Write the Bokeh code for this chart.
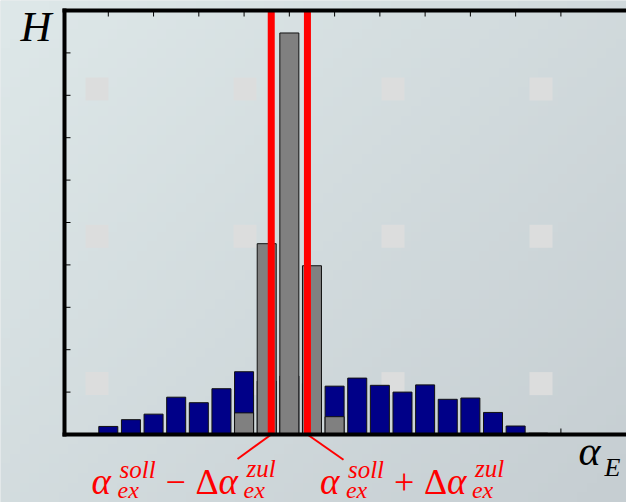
import numpy as np
from bokeh.plotting import figure
from bokeh.models import Range1d, Label
from bokeh.embed import file_html
from bokeh.resources import INLINE

# ---- data ----
bins = list(range(1, 21))
# full distribution (blue); bins 8-10 are hidden behind the grey bars
blue_h = [0.19, 0.35, 0.48, 0.88, 0.75, 1.08, 1.48, 1.26, 1.38, 1.20,
          1.14, 1.33, 1.16, 1.00, 1.17, 0.83, 0.86, 0.52, 0.20, 0.03]
grey_bins = [7, 8, 9, 10, 11]
grey_h = [0.51, 4.50, 9.47, 3.98, 0.42]
limits = [8.2, 9.8]          # alpha_soll -/+ delta alpha_zul
y_ticks = [1, 2, 3, 4, 5, 6, 7, 8, 9]
x_ticks = [1, 3, 5, 7, 9, 11, 13, 15, 17, 19, 21]

W, H = 626, 502
# plotting area in pixels (left, top, bottom); it runs off the right edge
AL, AT, AB = 64, 10, 434
BIN1_PX, PITCH = 107.8, 22.63
Y_TOP = 10
YPX = (AB - AT) / Y_TOP

def dx(px):
    return 1 + (px - BIN1_PX) / PITCH

def dy(py):
    return (AB - py) / YPX

x_start, x_end = dx(0), dx(W)
y_start, y_end = dy(H), dy(0)
x_left = dx(AL)

p = figure(width=W, height=H, output_backend="svg", toolbar_location=None,
           x_range=Range1d(x_start, x_end), y_range=Range1d(y_start, y_end),
           min_border=0, x_axis_location=None, y_axis_location=None,
           background_fill_color="#d3dbde", border_fill_color="#d3dbde",
           outline_line_color=None)
p.grid.visible = False

# soft slide background gradient
gx, gy = np.meshgrid(np.linspace(0, 1, 64), np.linspace(0, 1, 52))
t = (gx * 0.55 + (1 - gy) * 0.45)
c0 = np.array([222, 232, 233]); c1 = np.array([198, 206, 210])
img = np.empty(gx.shape, dtype=np.uint32)
view = img.view(dtype=np.uint8).reshape(gx.shape + (4,))
for k in range(3):
    view[..., k] = (c0[k] + (c1[k] - c0[k]) * t).astype(np.uint8)
view[..., 3] = 255
p.image_rgba(image=[img], x=x_start, y=y_start, dw=x_end - x_start,
             dh=y_end - y_start, level="image")

# decorative light squares of the slide background (a regular pattern)
sq_px = np.arange(96.5, W, 148.0)
sq_py = np.arange(88.5, AB, 147.3)
sx, sy = np.meshgrid(sq_px, sq_py)
p.rect(x=[dx(v) for v in sx.ravel()], y=[dy(v) for v in sy.ravel()],
       width=23, height=23, width_units="screen", height_units="screen",
       fill_color="#dcdddd", line_color=None, level="underlay")

# bottom ticks first so that the bars hide them
p.ray(x=x_ticks, y=[0] * len(x_ticks), length=6, length_units="screen",
      angle=np.pi / 2, line_color="black", line_width=1)

p.vbar(x=bins, top=blue_h, width=0.84, fill_color="#000088",
       line_color="#111111", line_width=1)
p.vbar(x=grey_bins, top=grey_h, width=0.84, fill_color="#808080",
       line_color="#111111", line_width=1)
p.segment(x0=limits, y0=[0] * 2, x1=limits, y1=[Y_TOP] * 2,
          line_color="#ff0000", line_width=7)

# connector lines to the limit labels
p.segment(x0=limits, y0=[0, 0], x1=[dx(237), dx(343)], y1=[dy(458.5), dy(459.3)],
          line_color="#ff0000", line_width=2)

# axes: left, top, bottom frame lines with inward ticks
p.ray(x=[x_left] * len(y_ticks), y=y_ticks, length=6, length_units="screen",
      angle=0, line_color="black", line_width=1)
p.ray(x=x_ticks, y=[Y_TOP] * len(x_ticks), length=6, length_units="screen",
      angle=-np.pi / 2, line_color="black", line_width=1)
p.segment(x0=[x_left, x_left, x_left], y0=[0, Y_TOP, 0],
          x1=[x_left, x_end, x_end], y1=[Y_TOP, Y_TOP, 0],
          line_color="black", line_width=4, line_cap="square")

SERIF = "Liberation Serif"

def lab(text, px, py, size, color, style="italic"):
    # py is the wanted baseline; shift for how the baseline is placed
    p.add_layout(Label(x=dx(px), y=dy(py - 0.32 * size), text=text,
                       text_font=SERIF, text_font_size=f"{size}px",
                       text_font_style=style, text_color=color,
                       text_align="left", text_baseline="alphabetic"))

lab("H", 20, 40, 43, "black")
lab("α", 578, 464, 42, "black")
lab("E", 604, 475, 26, "black")

RED = "#ff0000"
for off, sign in ((0, "−"), (228.4, "+")):
    lab("α", 91 + off, 493.3, 37, RED)
    lab("soll", 119 + off, 476.7, 25, RED)
    lab("ex", 117 + off, 497.5, 24, RED)
    lab(sign, 165 + off, 493.3, 36, RED, "normal")
    lab("Δ", 195 + off, 493.3, 36, RED, "normal")
    lab("α", 218 + off, 493.3, 37, RED)
    lab("zul", 246 + off, 476.3, 25, RED)
    lab("ex", 243 + off, 497.5, 24, RED)

open("out.html", "w").write(file_html(p, INLINE))
